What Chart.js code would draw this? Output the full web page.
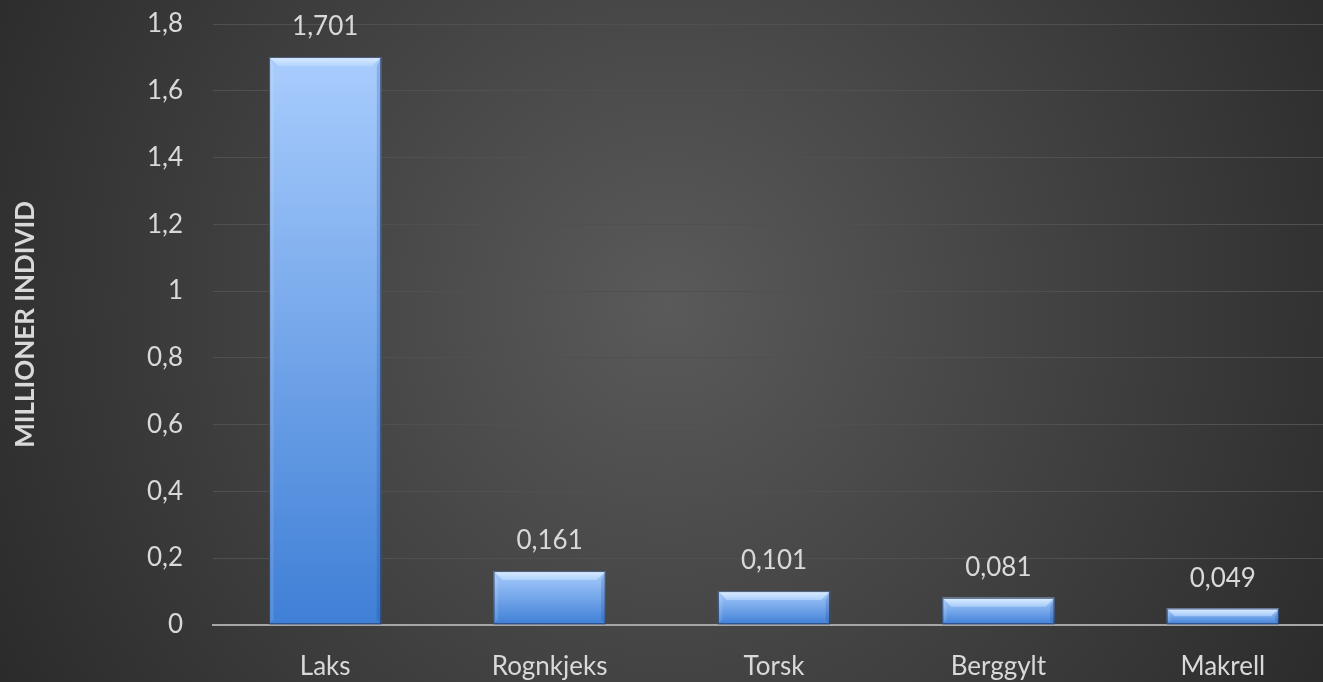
<!DOCTYPE html>
<html>
<head>
<meta charset="utf-8">
<script src="https://cdn.jsdelivr.net/npm/chart.js@4"></script>
<style>
  html, body { margin: 0; padding: 0; overflow: hidden; background: #333; }
  #wrap { width: 1335px; height: 682px; }
</style>
</head>
<body>
<div id="wrap"><canvas id="c"></canvas></div>
<script>
// arter og antall (millioner individ)
var species = ['Laks', 'Rognkjeks', 'Torsk', 'Berggylt', 'Makrell']
var amounts = [1.701, 0.161, 0.101, 0.081, 0.049]
var yTicks = [0, 0.2, 0.4, 0.6, 0.8, 1, 1.2, 1.4, 1.6, 1.8]

var fontFamily = 'Lato, "Open Sans", sans-serif'
var textColor = '#d9d9d9'

function commaNum(v, digits) {
  var s = digits == null ? String(Math.round(v * 10) / 10) : v.toFixed(digits)
  return s.replace('.', ',')
}

var bgPlugin = {
  id: 'bg',
  beforeDraw(chart) {
    let ctx = chart.ctx
    let w = chart.width, h = chart.height
    let g = ctx.createRadialGradient(w * 0.5, h * 0.45, 0, w * 0.5, h * 0.45, w * 0.62)
    g.addColorStop(0, '#5a5a5a')
    g.addColorStop(1, '#272727')
    ctx.save()
    ctx.fillStyle = g
    ctx.fillRect(0, 0, w, h)
    ctx.restore()
  }
}

var bevelPlugin = {
  id: 'bevel',
  afterDatasetsDraw(chart) {
    let ctx = chart.ctx
    let meta = chart.getDatasetMeta(0)
    ctx.save()
    meta.data.forEach(function (bar) {
      let half = bar.width / 2
      let l = bar.x - half, r = bar.x + half
      let t = bar.y, b = bar.base
      let bev = Math.min(9, (b - t) / 2)
      // top bevel
      let tg = ctx.createLinearGradient(0, t, 0, t + bev)
      tg.addColorStop(0, 'rgba(225,240,255,0.95)')
      tg.addColorStop(1, 'rgba(190,220,255,0.6)')
      ctx.fillStyle = tg
      ctx.beginPath()
      ctx.moveTo(l, t); ctx.lineTo(r, t); ctx.lineTo(r - bev, t + bev); ctx.lineTo(l + bev, t + bev)
      ctx.closePath(); ctx.fill()
      // side bevels
      ctx.fillStyle = 'rgba(255,255,255,0.12)'
      ctx.beginPath()
      ctx.moveTo(l, t); ctx.lineTo(l + bev / 2, t + bev); ctx.lineTo(l + bev / 2, b - bev / 2); ctx.lineTo(l, b)
      ctx.closePath(); ctx.fill()
      ctx.fillStyle = 'rgba(20,50,110,0.18)'
      ctx.beginPath()
      ctx.moveTo(r, t); ctx.lineTo(r - bev / 2, t + bev); ctx.lineTo(r - bev / 2, b - bev / 2); ctx.lineTo(r, b)
      ctx.closePath(); ctx.fill()
      ctx.strokeStyle = 'rgba(30,50,90,0.8)'
      ctx.lineWidth = 1
      ctx.strokeRect(l + 0.5, t + 0.5, bar.width - 1, b - t - 1)
    })
    ctx.restore()
  }
}

var labelPlugin = {
  id: 'valueLabels',
  afterDatasetsDraw(chart) {
    let ctx = chart.ctx
    let meta = chart.getDatasetMeta(0)
    ctx.save()
    ctx.font = '26px ' + fontFamily
    ctx.fillStyle = textColor
    ctx.textAlign = 'center'
    ctx.textBaseline = 'middle'
    meta.data.forEach(function (bar, i) {
      ctx.fillText(commaNum(amounts[i], 3), bar.x, bar.y - 30)
    })
    ctx.restore()
  }
}

var ctx = document.getElementById('c')
new Chart(ctx, {
  type: 'bar',
  data: {
    labels: species,
    datasets: [{
      data: amounts,
      barPercentage: 0.5,
      categoryPercentage: 1,
      backgroundColor(c) {
        let chart = c.chart
        let ys = chart.scales && chart.scales.y
        if (!chart.chartArea || !ys || c.raw == null) return '#6a9fe6'
        let top = ys.getPixelForValue(c.raw)
        let bot = ys.getPixelForValue(0)
        if (!isFinite(top) || !isFinite(bot) || bot - top < 1) return '#6a9fe6'
        let g = chart.ctx.createLinearGradient(0, top, 0, bot)
        g.addColorStop(0, '#a9cdfd')
        g.addColorStop(1, '#3f7fd6')
        return g
      },
      borderWidth: 0
    }]
  },
  options: {
    responsive: true,
    maintainAspectRatio: false,
    animation: false,
    layout: { padding: { top: 24, left: 0, right: 0, bottom: -18 } },
    plugins: {
      legend: { display: false },
      tooltip: { enabled: false }
    },
    scales: {
      x: {
        grid: { display: false },
        border: { color: '#a6a6a6', width: 2 },
        ticks: { color: textColor, font: { family: fontFamily, size: 26 }, padding: 18 }
      },
      y: {
        min: 0,
        max: 1.8,
        afterBuildTicks(axis) {
          axis.ticks = yTicks.map(v => ({ value: v }))
        },
        afterFit(axis) {
          axis.width = 213
          axis.paddingTop = 0
          axis.paddingBottom = 0
        },
        grid: { color: '#505050', lineWidth: 1, drawTicks: false },
        border: { display: false },
        ticks: {
          color: textColor,
          font: { family: fontFamily, size: 26 },
          padding: 30,
          callback: v => commaNum(v)
        },
        title: {
          display: true,
          text: 'MILLIONER INDIVID',
          color: textColor,
          font: { family: fontFamily, size: 26, weight: 'bold' },
          padding: { top: 10, bottom: 0 }
        }
      }
    }
  },
  plugins: [bgPlugin, bevelPlugin, labelPlugin]
})
</script>
</body>
</html>
